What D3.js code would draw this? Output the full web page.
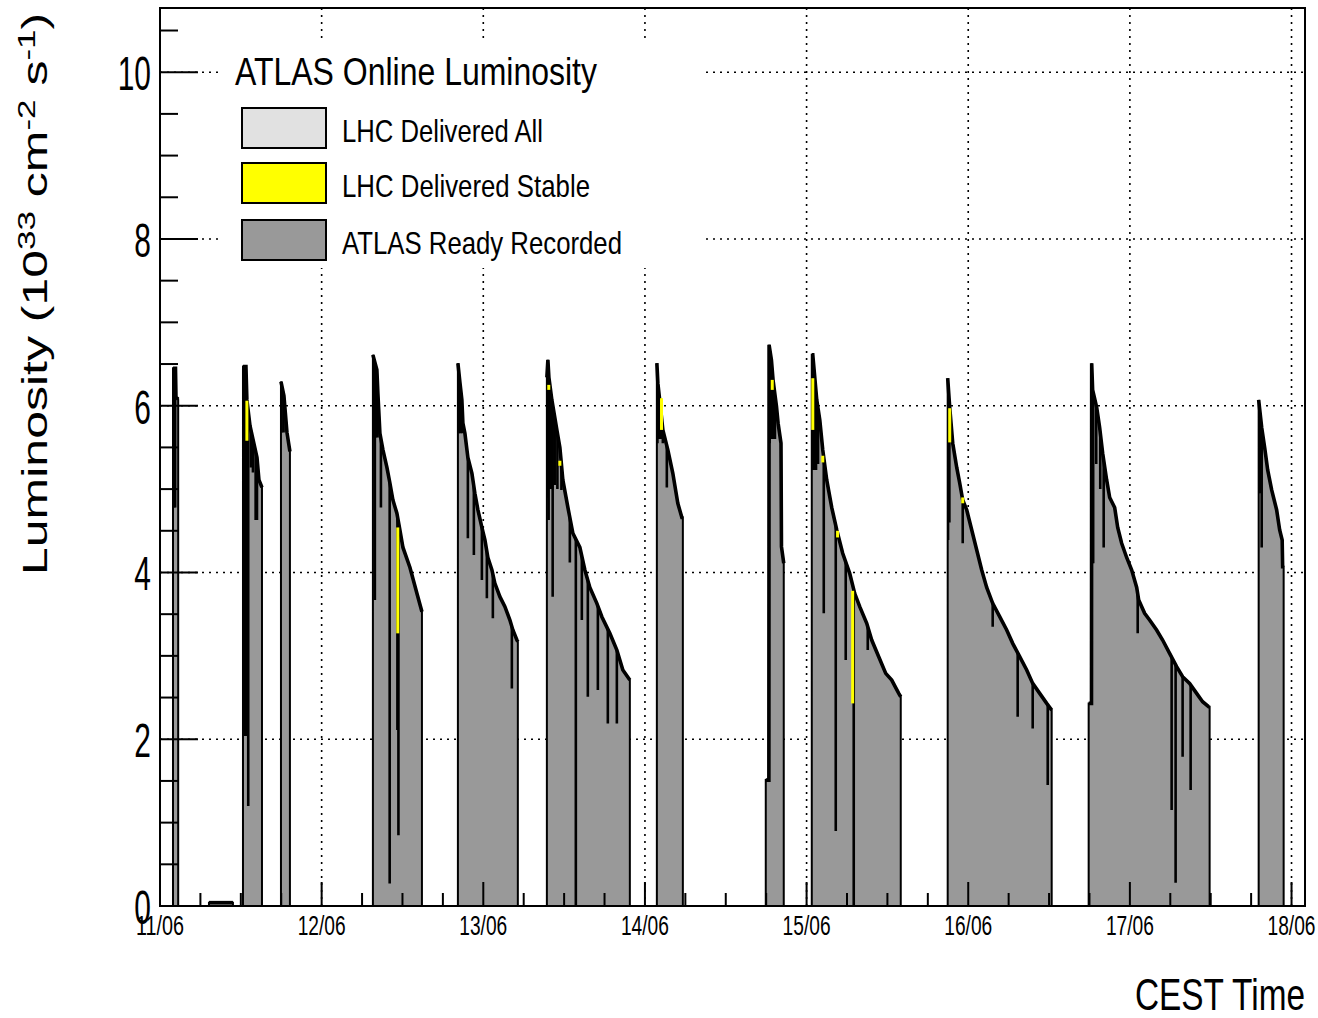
<!DOCTYPE html>
<html>
<head>
<meta charset="utf-8">
<script src="https://cdn.jsdelivr.net/npm/d3@7"></script>
<style>
  body { margin: 0; background: #fff; }
  svg { display: block; font-family: "Liberation Sans", Arial, Helvetica, sans-serif; }
</style>
</head>
<body>
<svg id="chart" width="1318" height="1018"></svg>
<script>
// time = hours after 11/06 00:00, luminosity in 1e33 cm^-2 s^-1
const fillEnvelopes = [
  [[1.93, 6.45], [2.30, 6.45], [2.37, 6.10], [2.70, 6.08]],
  [[7.27, 0.04], [10.83, 0.04]],
  [[12.32, 6.47], [12.76, 6.47], [12.90, 6.07], [13.36, 5.76], [13.80, 5.60], [14.40, 5.38], [14.69, 5.11], [15.14, 5.02]],
  [[17.96, 6.29], [18.40, 6.12], [18.85, 5.68], [19.29, 5.45]],
  [[31.61, 6.61], [32.20, 6.43], [32.35, 6.15], [32.65, 5.67], [33.10, 5.47], [33.69, 5.26], [34.14, 5.07], [34.58, 4.87],
   [35.17, 4.71], [35.62, 4.51], [36.07, 4.30], [37.11, 4.06], [38.14, 3.75], [38.89, 3.53]],
  [[44.23, 6.51], [44.53, 6.28], [44.82, 6.07], [44.97, 5.79], [45.27, 5.67], [45.71, 5.38], [46.31, 5.19], [46.75, 4.95],
   [47.20, 4.75], [47.79, 4.54], [48.24, 4.39], [48.68, 4.18], [49.28, 4.03], [49.72, 3.87], [50.46, 3.71], [51.21, 3.59],
   [51.95, 3.43], [52.39, 3.31], [52.99, 3.19], [53.13, 3.17]],
  [[57.44, 6.34], [57.59, 6.55], [57.74, 6.34], [58.18, 6.07], [58.92, 5.71], [59.37, 5.50], [59.81, 5.11], [60.56, 4.78],
   [61.30, 4.47], [62.34, 4.30], [63.08, 4.03], [63.82, 3.82], [64.86, 3.63], [65.60, 3.47], [66.79, 3.27], [67.83, 3.07],
   [68.72, 2.83], [69.76, 2.71]],
  [[73.77, 6.51], [73.92, 6.27], [74.66, 5.71], [75.40, 5.47], [76.14, 5.19], [76.88, 4.83], [77.48, 4.66], [77.63, 4.66]],
  [[89.94, 1.51], [90.40, 1.51], [90.43, 6.73], [90.78, 6.55], [91.02, 6.31], [91.53, 5.99], [91.77, 5.79], [92.20, 5.55],
   [92.27, 4.31], [92.61, 4.11]],
  [[96.77, 6.61], [96.92, 6.61], [97.51, 6.07], [97.96, 5.83], [98.40, 5.47], [98.99, 5.11], [99.73, 4.78], [100.48, 4.51],
   [101.36, 4.23], [102.40, 3.99], [103.14, 3.75], [103.89, 3.59], [104.93, 3.39], [105.67, 3.19], [106.71, 2.99],
   [107.75, 2.79], [108.64, 2.71], [109.68, 2.55], [109.98, 2.51]],
  [[116.95, 6.33], [117.25, 5.98], [117.70, 5.55], [118.29, 5.26], [118.74, 5.07], [119.18, 4.87], [119.78, 4.75],
   [120.52, 4.51], [121.26, 4.27], [122.00, 4.03], [122.74, 3.82], [123.63, 3.63], [124.67, 3.47], [125.71, 3.31],
   [126.60, 3.15], [127.64, 2.99], [128.68, 2.83], [129.57, 2.67], [130.61, 2.55], [131.65, 2.43], [132.39, 2.35]],
  [[137.88, 2.43], [138.30, 2.43], [138.33, 6.51], [138.47, 6.19], [139.07, 5.98], [139.51, 5.74], [139.96, 5.43],
   [140.55, 5.11], [141.00, 4.90], [141.74, 4.78], [142.19, 4.54], [142.78, 4.35], [143.52, 4.18], [144.27, 4.03],
   [145.01, 3.82], [145.31, 3.67], [146.19, 3.51], [146.93, 3.43], [147.97, 3.31], [148.86, 3.19], [149.90, 3.03],
   [150.94, 2.87], [151.83, 2.75], [152.87, 2.67], [153.91, 2.55], [154.80, 2.45], [155.69, 2.39], [155.84, 2.39]],
  [[163.12, 6.07], [163.57, 5.74], [164.01, 5.50], [164.46, 5.23], [165.05, 4.99], [165.79, 4.75], [166.24, 4.51],
   [166.61, 4.39], [166.68, 4.07], [166.83, 4.07]]
];

// short drops of the recorded luminosity: [time, lowest value]
const dips = [
  [2.10, 4.78], [2.25, 4.78],
  [12.45, 2.04], [12.60, 2.04], [12.75, 2.04], [12.90, 2.04], [13.10, 1.20], [13.50, 5.26], [13.80, 5.20], [14.20, 4.63], [14.40, 4.63],
  [18.05, 5.68], [18.35, 5.68],
  [31.75, 5.62], [31.90, 3.67], [32.05, 5.62], [32.30, 5.62], [32.80, 4.78], [34.10, 0.27], [35.25, 2.11], [35.40, 0.85],
  [44.35, 5.67], [44.60, 5.67], [44.85, 5.67], [45.71, 4.41], [46.60, 4.21], [47.79, 3.91], [48.53, 3.69], [49.42, 3.45], [52.24, 2.61],
  [57.55, 4.90], [57.70, 4.63], [57.85, 5.00], [58.05, 5.00], [58.30, 3.71], [58.60, 5.05], [59.00, 5.00], [59.60, 4.99],
  [60.85, 4.12], [61.74, 0.00], [62.63, 3.43], [63.52, 2.51], [65.01, 2.59], [66.49, 2.19], [67.83, 2.19],
  [73.85, 5.55], [74.10, 5.60], [74.35, 5.60], [74.66, 5.55], [75.25, 5.02],
  [90.50, 5.55], [90.75, 5.60], [91.00, 5.60], [91.30, 5.60],
  [96.85, 5.23], [97.10, 5.23], [97.40, 5.23], [97.70, 5.30], [98.55, 3.51], [100.33, 0.90], [101.81, 2.95], [103.00, 0.00], [105.08, 3.07],
  [117.00, 4.39], [117.20, 4.60], [119.18, 4.35], [123.63, 3.35], [127.34, 2.27], [129.57, 2.13], [131.80, 1.45],
  [138.40, 4.11], [138.55, 4.11], [139.00, 5.30], [139.60, 5.00], [140.11, 4.30], [145.16, 3.27], [150.20, 1.15], [150.79, 0.28],
  [151.83, 1.79], [153.02, 1.39],
  [163.05, 4.95], [163.30, 4.95], [163.57, 4.30]
];

// delivered stable above recorded: [time, low, high]
const stableMarks = [
  [12.90, 5.58, 6.06], [35.30, 3.27, 4.54], [57.72, 6.19, 6.25], [59.37, 5.28, 5.34], [74.46, 5.71, 6.09],
  [90.90, 6.19, 6.31], [96.92, 5.71, 6.33], [98.40, 5.32, 5.40], [100.60, 4.42, 4.50], [102.84, 2.43, 3.78],
  [117.25, 5.56, 5.97], [119.18, 4.83, 4.90]
];

const legendLabels = ["LHC Delivered All", "LHC Delivered Stable", "ATLAS Ready Recorded"];
const legendColors = ["#e1e1e1", "#ffff00", "#999999"];
const yMajor = [0, 2, 4, 6, 8, 10];

const T0 = Date.UTC(2012, 5, 11);
const hr = (h) => new Date(T0 + h * 3600e3);

const svg = d3.select("#chart");
const frameL = 160, frameR = 1305, frameT = 8, frameB = 906;

const x = d3.scaleUtc().domain([hr(0), hr(170)]).range([frameL, frameR]);
const y = d3.scaleLinear().domain([0, 10.77]).range([frameB, frameT]);

// squeeze text horizontally to a given fraction of its natural width
function squeeze(sel, ratio) {
  sel.each(function () {
    const w = this.getComputedTextLength() * ratio;
    d3.select(this).attr("textLength", w).attr("lengthAdjust", "spacingAndGlyphs");
  });
}

// grid
const days = d3.utcDay.range(hr(0), hr(170.01));
const grid = svg.append("g").attr("stroke", "#000").attr("stroke-width", 1.6).attr("stroke-dasharray", "2,5");
grid.selectAll("line.v").data(days.slice(1)).join("line")
  .attr("x1", (d) => x(d)).attr("x2", (d) => x(d)).attr("y1", frameT).attr("y2", frameB);
grid.selectAll("line.h").data(yMajor.slice(1)).join("line")
  .attr("x1", frameL).attr("x2", frameR).attr("y1", (d) => y(d)).attr("y2", (d) => y(d));

// fills
const area = d3.area().x((d) => x(hr(d[0]))).y0(y(0)).y1((d) => y(d[1]));
const line = d3.line().x((d) => x(hr(d[0]))).y((d) => y(d[1]));

const clip = svg.append("defs").append("clipPath").attr("id", "fills");
clip.selectAll("path").data(fillEnvelopes).join("path").attr("d", area);

svg.append("g").selectAll("path").data(fillEnvelopes).join("path")
  .attr("d", area).attr("fill", "#999999").attr("stroke", "#000").attr("stroke-width", 2);

svg.append("g").attr("clip-path", "url(#fills)")
  .selectAll("line").data(dips).join("line")
  .attr("x1", (d) => x(hr(d[0]))).attr("x2", (d) => x(hr(d[0])))
  .attr("y1", (d) => y(d[1])).attr("y2", y(8))
  .attr("stroke", "#000").attr("stroke-width", 2.6);

svg.append("g").selectAll("path").data(fillEnvelopes).join("path")
  .attr("d", line).attr("fill", "none").attr("stroke", "#000").attr("stroke-width", 3.6);

svg.append("g").selectAll("rect").data(stableMarks).join("rect")
  .attr("x", (d) => x(hr(d[0])) - 1.5).attr("width", 3)
  .attr("y", (d) => y(d[2])).attr("height", (d) => y(d[1]) - y(d[2]))
  .attr("fill", "#ffff00");

// legend
const lg = svg.append("g");
lg.append("rect").attr("x", 222).attr("y", 40).attr("width", 480).attr("height", 228).attr("fill", "#fff");
lg.append("text").attr("x", 235).attr("y", 85).attr("font-size", 39)
  .attr("textLength", 362).attr("lengthAdjust", "spacingAndGlyphs").text("ATLAS Online Luminosity");
const entryY = [108, 163, 220];
const entryW = [201, 248, 280];
lg.selectAll("rect.box").data(legendLabels).join("rect").attr("class", "box")
  .attr("x", 242).attr("y", (d, i) => entryY[i]).attr("width", 84).attr("height", 40)
  .attr("fill", (d, i) => legendColors[i]).attr("stroke", "#000").attr("stroke-width", 2);
lg.selectAll("text.lab").data(legendLabels).join("text").attr("class", "lab")
  .attr("x", 342).attr("y", (d, i) => entryY[i] + 34).attr("font-size", 32)
  .attr("textLength", (d, i) => entryW[i]).attr("lengthAdjust", "spacingAndGlyphs").text((d) => d);

// axes, ticks pointing inward
const axes = svg.append("g").attr("stroke", "#000").attr("stroke-width", 2);
const yMinor = d3.range(0, 10.76, 0.5).filter((v) => v % 2 !== 0);
axes.selectAll("line.ym").data(yMinor).join("line")
  .attr("x1", frameL).attr("x2", frameL + 18).attr("y1", (d) => y(d)).attr("y2", (d) => y(d));
axes.selectAll("line.yM").data(yMajor).join("line")
  .attr("x1", frameL).attr("x2", frameL + 38).attr("y1", (d) => y(d)).attr("y2", (d) => y(d));
const sixHours = d3.utcHour.every(6).range(hr(0), hr(170.01)).filter((d) => d.getUTCHours() !== 0);
axes.selectAll("line.xm").data(sixHours).join("line")
  .attr("x1", (d) => x(d)).attr("x2", (d) => x(d)).attr("y1", frameB).attr("y2", frameB - 13);
axes.selectAll("line.xM").data(days).join("line")
  .attr("x1", (d) => x(d)).attr("x2", (d) => x(d)).attr("y1", frameB).attr("y2", frameB - 24);
axes.append("rect").attr("x", frameL).attr("y", frameT).attr("width", frameR - frameL).attr("height", frameB - frameT)
  .attr("fill", "none");

// tick labels
const fmt = d3.utcFormat("%d/%m");
svg.append("g").selectAll("text").data(days).join("text")
  .attr("x", (d) => x(d) - 24).attr("y", 935).attr("font-size", 28)
  .attr("textLength", 48).attr("lengthAdjust", "spacingAndGlyphs").text((d) => fmt(d));

const yl = svg.append("g").selectAll("text").data(yMajor).join("text")
  .attr("y", (d) => y(d) + 18).attr("font-size", 49).text((d) => d);
squeeze(yl, 0.61);
yl.attr("x", function () { return 151 - +this.getAttribute("textLength"); });

// axis titles
svg.append("text").attr("x", 1135).attr("y", 1010).attr("font-size", 45)
  .attr("textLength", 170).attr("lengthAdjust", "spacingAndGlyphs").text("CEST Time");

const yt = svg.append("text").attr("font-size", 50)
  .attr("transform", "translate(47,575) scale(0.7,1) rotate(-90)");
yt.append("tspan").text("Luminosity (10");
yt.append("tspan").attr("font-size", 35).attr("dy", -17).text("33");
yt.append("tspan").attr("dy", 17).text(" cm");
yt.append("tspan").attr("font-size", 35).attr("dy", -17).text("-2");
yt.append("tspan").attr("dy", 17).text(" s");
yt.append("tspan").attr("font-size", 35).attr("dy", -17).text("-1");
yt.append("tspan").attr("dy", 17).text(")");
</script>
</body>
</html>
